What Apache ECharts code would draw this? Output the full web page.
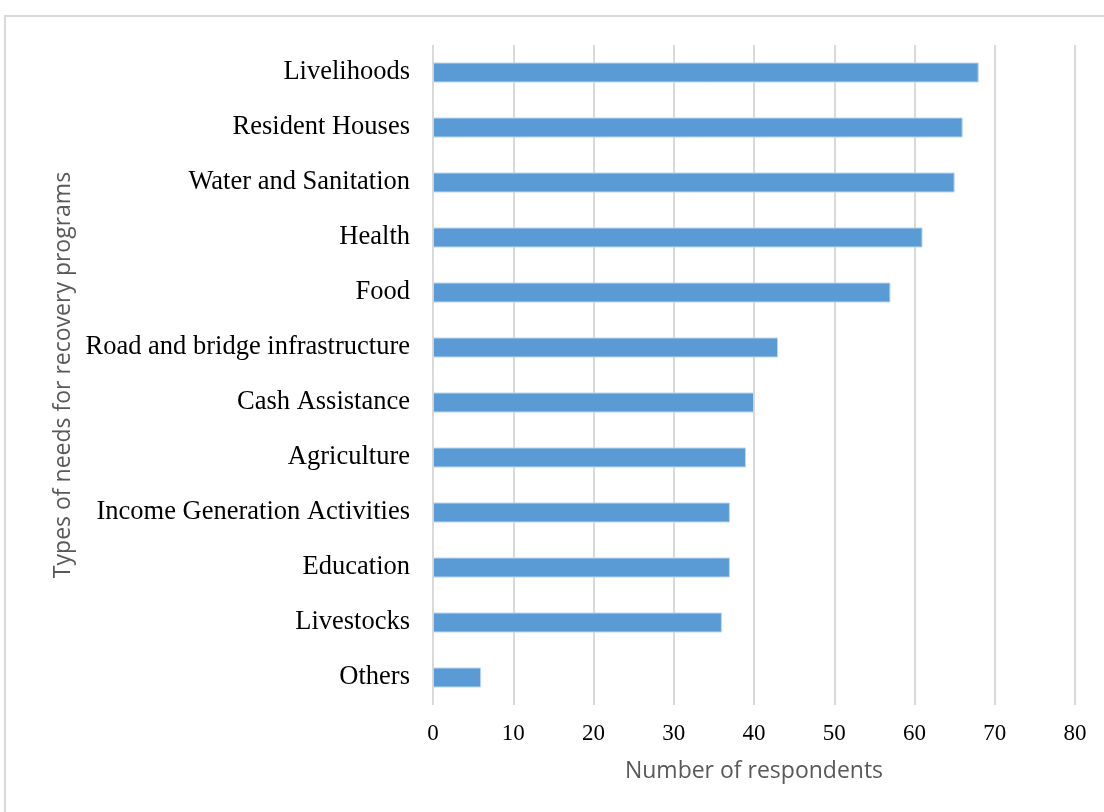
<!DOCTYPE html>
<html>
<head>
<meta charset="utf-8">
<script src="https://cdn.jsdelivr.net/npm/echarts@6/dist/echarts.min.js"></script>
<style>html,body{margin:0;padding:0;background:#fff}#c{width:1104px;height:812px}</style>
</head>
<body>
<div id="c"></div>
<script>
const categories = ["Livelihoods","Resident Houses","Water and Sanitation","Health","Food","Road and bridge infrastructure","Cash Assistance","Agriculture","Income Generation Activities","Education","Livestocks","Others"];
const values = [68,66,65,61,57,43,40,39,37,37,36,6];
const xTicks = [0,10,20,30,40,50,60,70,80];

const chart = echarts.init(document.getElementById('c'), null, {renderer:'canvas'});
chart.setOption({
  backgroundColor:'#fff',
  animation:false,
  graphic:[{type:'rect',shape:{x:5,y:16,width:1200,height:900},style:{fill:'none',stroke:'#d9d9d9',lineWidth:2},z:-1}],
  grid:{left:433,right:29,top:45,bottom:107,containLabel:false},
  xAxis:{
    type:'value',min:xTicks[0],max:xTicks[xTicks.length-1],interval:10,
    name:'Number of respondents',nameLocation:'middle',nameGap:55,
    nameTextStyle:{fontFamily:'Open Sans',fontSize:23,color:'#595959'},
    axisLine:{show:false},axisTick:{show:false},
    axisLabel:{fontFamily:'Liberation Serif',fontSize:23,color:'#000',margin:17},
    splitLine:{show:true,lineStyle:{color:'#d9d9d9',width:2}}
  },
  yAxis:{
    type:'category',data:categories,inverse:true,
    name:'Types of needs for recovery programs',nameLocation:'middle',nameGap:358,nameRotate:90,
    nameTextStyle:{fontFamily:'Open Sans',fontSize:23,color:'#595959'},
    axisLine:{show:false},axisTick:{show:false},
    axisLabel:{fontFamily:'Liberation Serif',fontSize:26.5,color:'#000',margin:23,padding:[6,0,0,0]}
  },
  series:[{type:'bar',data:values,barWidth:20,itemStyle:{color:'#5b9bd5',borderColor:'#bdd7ee',borderWidth:1}}]
});
</script>
</body>
</html>
